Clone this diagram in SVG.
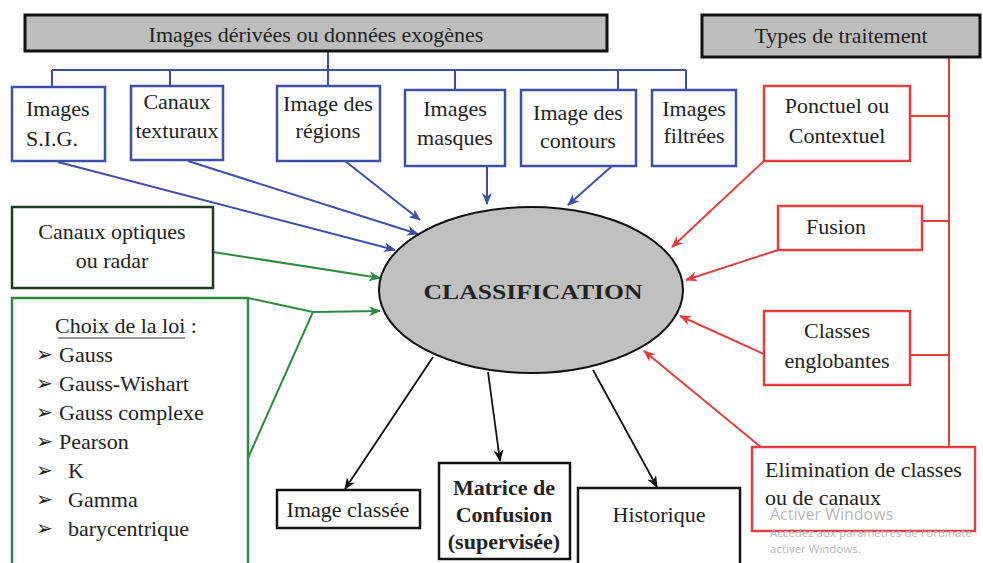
<svg xmlns="http://www.w3.org/2000/svg" width="983" height="563" viewBox="0 0 983 563">
  <style>
    .t { font-family: "Liberation Serif", "Times New Roman", serif; font-size: 22px; fill: #222; }
    .c { text-anchor: middle; }
    .head { fill: #bebebe; stroke: #111; stroke-width: 3; }
    .bl { fill: #fff; stroke: #3f4fa6; stroke-width: 2.5; }
    .rd { fill: #fff; stroke: #e04040; stroke-width: 2.5; }
    .gr { fill: #fff; stroke: #2f8a3f; stroke-width: 2.5; }
    .dk { fill: #fff; stroke: #111; stroke-width: 2.5; }
    .wb { fill: none; stroke: #3f4fa6; stroke-width: 2; }
    .wr { fill: none; stroke: #e04040; stroke-width: 2; }
    .wg { fill: none; stroke: #2f8a3f; stroke-width: 2; }
    .wk { fill: none; stroke: #111; stroke-width: 1.8; }
    .bul { font-family: "DejaVu Sans", sans-serif; font-size: 20px; fill: #222; }
    .win { font-family: "Open Sans", "Noto Sans", sans-serif; fill: #b8b8b8; }
  </style>
  <defs>
    <marker id="ab" viewBox="0 0 12 10" refX="11" refY="5" markerWidth="12" markerHeight="10" markerUnits="userSpaceOnUse" orient="auto">
      <path d="M0,0 L12,5 L0,10 L3.5,5 z" fill="#3f4fa6"/>
    </marker>
    <marker id="ar" viewBox="0 0 12 10" refX="11" refY="5" markerWidth="12" markerHeight="10" markerUnits="userSpaceOnUse" orient="auto">
      <path d="M0,0 L12,5 L0,10 L3.5,5 z" fill="#e04040"/>
    </marker>
    <marker id="ag" viewBox="0 0 12 10" refX="11" refY="5" markerWidth="12" markerHeight="10" markerUnits="userSpaceOnUse" orient="auto">
      <path d="M0,0 L12,5 L0,10 L3.5,5 z" fill="#2f8a3f"/>
    </marker>
    <marker id="ak" viewBox="0 0 12 10" refX="11" refY="5" markerWidth="12" markerHeight="10" markerUnits="userSpaceOnUse" orient="auto">
      <path d="M0,0 L12,5 L0,10 L3.5,5 z" fill="#111"/>
    </marker>
  </defs>

  <rect width="983" height="563" fill="#fff"/>

  <!-- connectors -->
  <g id="connectors">
    <!-- blue tree from the header -->
    <path class="wb" d="M328,51 V70 M52,70 H686 M52,70 V87 M170,70 V86 M328,70 V86 M455,70 V90 M618,70 V90 M686,70 V90"/>
    <line class="wb" x1="58" y1="162" x2="395" y2="250" marker-end="url(#ab)"/>
    <line class="wb" x1="188" y1="161" x2="418" y2="234" marker-end="url(#ab)"/>
    <line class="wb" x1="345" y1="161" x2="420" y2="220" marker-end="url(#ab)"/>
    <line class="wb" x1="487" y1="166" x2="487" y2="204" marker-end="url(#ab)"/>
    <line class="wb" x1="612" y1="166" x2="568" y2="205" marker-end="url(#ab)"/>

    <!-- green inputs -->
    <line class="wg" x1="213" y1="252" x2="380" y2="278" marker-end="url(#ag)"/>
    <path class="wg" d="M248,298 L313,312 L248,458"/>
    <line class="wg" x1="313" y1="312" x2="380" y2="311" stroke-width="3" marker-end="url(#ag)"/>

    <!-- red tree from the header -->
    <path class="wr" d="M949,58 V447 M910,116 H949 M922,221 H949 M910,355 H949"/>
    <line class="wr" x1="764" y1="161" x2="672" y2="247" marker-end="url(#ar)"/>
    <line class="wr" x1="778" y1="250" x2="686" y2="280" marker-end="url(#ar)"/>
    <line class="wr" x1="764" y1="354" x2="680" y2="316" marker-end="url(#ar)"/>
    <line class="wr" x1="762" y1="448" x2="644" y2="351" marker-end="url(#ar)"/>

    <!-- black outputs -->
    <line class="wk" x1="433" y1="357" x2="345" y2="489" marker-end="url(#ak)"/>
    <line class="wk" x1="488" y1="372" x2="500" y2="461" marker-end="url(#ak)"/>
    <line class="wk" x1="593" y1="370" x2="657" y2="487" marker-end="url(#ak)"/>
  </g>

  <g id="n-derivees">
    <rect class="head" x="25" y="15" width="582" height="36"/>
    <text class="t c" x="316" y="42" font-size="24">Images dérivées ou données exogènes</text>
  </g>
  <g id="n-types">
    <rect class="head" x="702" y="15" width="278" height="42"/>
    <text class="t c" x="841" y="43" font-size="24">Types de traitement</text>
  </g>

  <g id="n-sig">
    <rect class="bl" x="12" y="87" width="93" height="74"/>
    <text class="t" x="26" y="116">Images</text>
    <text class="t" x="26" y="146">S.I.G.</text>
  </g>
  <g id="n-textures">
    <rect class="bl" x="131" y="86" width="92" height="74"/>
    <text class="t c" x="177" y="109">Canaux</text>
    <text class="t c" x="177" y="138">texturaux</text>
  </g>
  <g id="n-regions">
    <rect class="bl" x="277" y="86" width="103" height="75"/>
    <text class="t c" x="328" y="111">Image des</text>
    <text class="t c" x="328" y="138">régions</text>
  </g>
  <g id="n-masques">
    <rect class="bl" x="405" y="90" width="100" height="76"/>
    <text class="t c" x="455" y="116">Images</text>
    <text class="t c" x="455" y="145">masques</text>
  </g>
  <g id="n-contours">
    <rect class="bl" x="521" y="90" width="115" height="76"/>
    <text class="t c" x="578" y="120">Image des</text>
    <text class="t c" x="578" y="148">contours</text>
  </g>
  <g id="n-filtrees">
    <rect class="bl" x="652" y="90" width="84" height="76"/>
    <text class="t c" x="694" y="116">Images</text>
    <text class="t c" x="694" y="143">filtrées</text>
  </g>

  <g id="n-ponctuel">
    <rect class="rd" x="764" y="86" width="146" height="75"/>
    <text class="t c" x="837" y="113">Ponctuel ou</text>
    <text class="t c" x="837" y="143">Contextuel</text>
  </g>
  <g id="n-fusion">
    <rect class="rd" x="778" y="206" width="144" height="44"/>
    <text class="t c" x="836" y="234">Fusion</text>
  </g>
  <g id="n-englobantes">
    <rect class="rd" x="764" y="311" width="146" height="74"/>
    <text class="t c" x="837" y="338">Classes</text>
    <text class="t c" x="837" y="368">englobantes</text>
  </g>
  <g id="n-elimination">
    <rect class="rd" x="752" y="447" width="223" height="84"/>
    <text class="t" x="765" y="477" font-size="23">Elimination de classes</text>
    <text class="t" x="765" y="505" font-size="23">ou de canaux</text>
  </g>

  <g id="n-optiques">
    <rect x="12" y="207" width="201" height="81" fill="#fff" stroke="#213a25" stroke-width="2.5"/>
    <text class="t c" x="112" y="239">Canaux optiques</text>
    <text class="t c" x="112" y="268">ou radar</text>
  </g>
  <g id="n-loi">
    <rect class="gr" x="12" y="298" width="236" height="280"/>
    <text class="t c" x="126" y="333">Choix de la loi :</text>
    <line x1="58" y1="338" x2="185" y2="338" stroke="#333" stroke-width="1.2"/>
    <text class="bul" x="36" y="361">➢</text><text class="t" x="59" y="362">Gauss</text>
    <text class="bul" x="36" y="390">➢</text><text class="t" x="59" y="391">Gauss-Wishart</text>
    <text class="bul" x="36" y="419">➢</text><text class="t" x="59" y="420">Gauss complexe</text>
    <text class="bul" x="36" y="448">➢</text><text class="t" x="59" y="449">Pearson</text>
    <text class="bul" x="36" y="477">➢</text><text class="t" x="68" y="478">K</text>
    <text class="bul" x="36" y="506">➢</text><text class="t" x="68" y="507">Gamma</text>
    <text class="bul" x="36" y="535">➢</text><text class="t" x="68" y="536">barycentrique</text>
  </g>

  <g id="n-classification">
    <ellipse cx="531" cy="290" rx="152" ry="83" fill="#c0c0c0" stroke="#111" stroke-width="2"/>
    <text class="t c" x="533" y="299" font-size="30" font-weight="bold" fill="#111" textLength="219" lengthAdjust="spacingAndGlyphs">CLASSIFICATION</text>
  </g>

  <g id="n-image-classee">
    <rect class="dk" x="277" y="490" width="143" height="38"/>
    <text class="t c" x="348" y="517">Image classée</text>
  </g>
  <g id="n-matrice">
    <rect class="dk" x="439" y="463" width="131" height="96"/>
    <text class="t c" x="504" y="495" font-size="15" font-weight="bold">Matrice de</text>
    <text class="t c" x="504" y="522" font-size="15" font-weight="bold">Confusion</text>
    <text class="t c" x="504" y="549" font-size="15" font-weight="bold">(supervisée)</text>
  </g>
  <g id="n-historique">
    <rect class="dk" x="578" y="488" width="162" height="85"/>
    <text class="t c" x="659" y="522" font-size="23">Historique</text>
  </g>

  <!-- activation notice -->
  <g id="activation">
    <text class="win" x="770" y="520" font-size="16">Activer Windows</text>
    <text class="win" x="770" y="537" font-size="11.5">Accédez aux paramètres de l'ordinate</text>
    <text class="win" x="770" y="553" font-size="11.5">activer Windows.</text>
  </g>
</svg>
